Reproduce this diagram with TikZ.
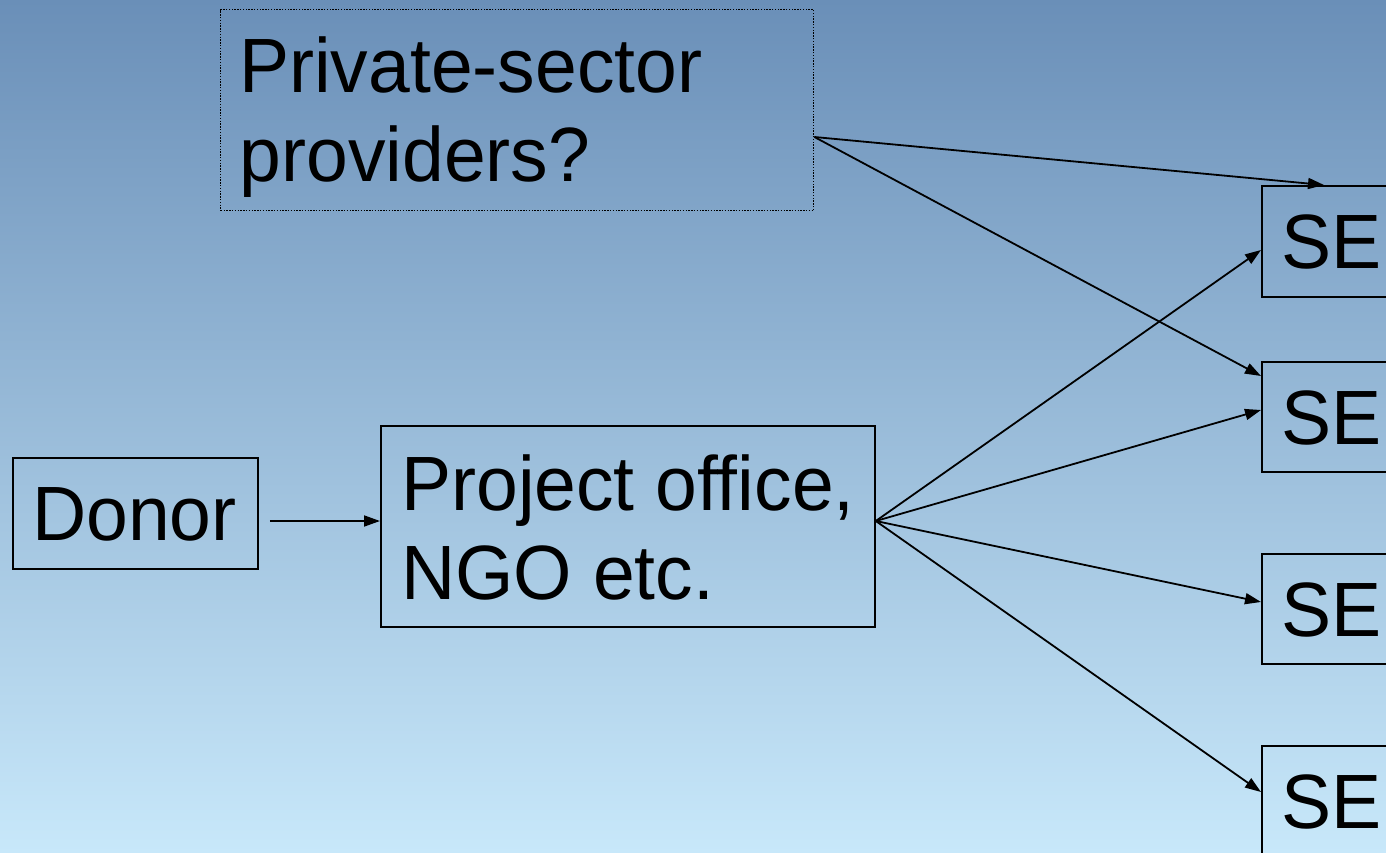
\documentclass[tikz,border=0pt]{standalone}
\usepackage{fontspec}
\setmainfont[FakeStretch=0.975]{Liberation Sans}
\usetikzlibrary{arrows.meta,calc}
\definecolor{bgtop}{RGB}{106,143,184}
\definecolor{bgbot}{RGB}{200,232,250}
\tikzset{
  box/.style={draw=black, line width=1.8pt, rectangle, inner sep=0pt, anchor=north west},
  dotbox/.style={box, line width=1.4pt, dash pattern=on 1.4pt off 1.4pt},
  lbl/.style={anchor=base west, inner sep=0pt, font=\fontsize{77}{89}\selectfont, text=black},
  conn/.style={draw=black, line width=1.8pt, -{Triangle[length=16pt,width=11pt]}}
}
\begin{document}
\begin{tikzpicture}[x=1pt,y=-1pt]
\useasboundingbox (0,0) rectangle (1386,853);
\shade[top color=bgtop, bottom color=bgbot] (0,0) rectangle (1386,853);
\clip (0,0) rectangle (1386,853);
% boxes
\node[dotbox, minimum width=593pt, minimum height=201pt] (priv) at (220,9) {};
\node[box, minimum width=245pt, minimum height=111pt] (donor) at (12,457) {};
\node[box, minimum width=494pt, minimum height=201pt] (proj) at (380,425) {};
\node[box, minimum width=140pt, minimum height=111pt] (se1) at (1261,185) {};
\node[box, minimum width=140pt, minimum height=110pt] (se2) at (1261,361) {};
\node[box, minimum width=140pt, minimum height=110pt] (se3) at (1261,553) {};
\node[box, minimum width=140pt, minimum height=111pt] (se4) at (1261,745) {};
% labels
\node[lbl] (privA) at (239,93) {Private-sector};
\node[lbl] (privB) at (239.5,182) {providers?};
\node[lbl] (donorT) at (32,540) {Donor};
\node[lbl] (projA) at (401,510) {Project office,};
\node[lbl] (projB) at (401,599) {NGO etc.};
\node[lbl] (se1T) at (1281,268) {SE};
\node[lbl] (se2T) at (1281,444) {SE};
\node[lbl] (se3T) at (1281,636) {SE};
\node[lbl] (se4T) at (1281,828) {SE};
% connector end points
\coordinate (pv) at ($(priv.north east)+(0,128)$);
\coordinate (pf) at ($(proj.north east)+(0,96)$);
\coordinate (df) at ($(donor.north east)+(11,64)$);
% connectors
\draw[conn] (df) -- (proj.west |- df);
\draw[conn] (pv) -- ($(se1.north west)+(63,0)$);
\draw[conn] (pv) -- ($(se2.north west)+(0,15)$);
\draw[conn] (pf) -- ($(se1.north west)+(0,65)$);
\draw[conn] (pf) -- ($(se2.north west)+(0,49)$);
\draw[conn] (pf) -- ($(se3.north west)+(0,49)$);
\draw[conn] (pf) -- ($(se4.north west)+(0,47)$);
\end{tikzpicture}
\end{document}
